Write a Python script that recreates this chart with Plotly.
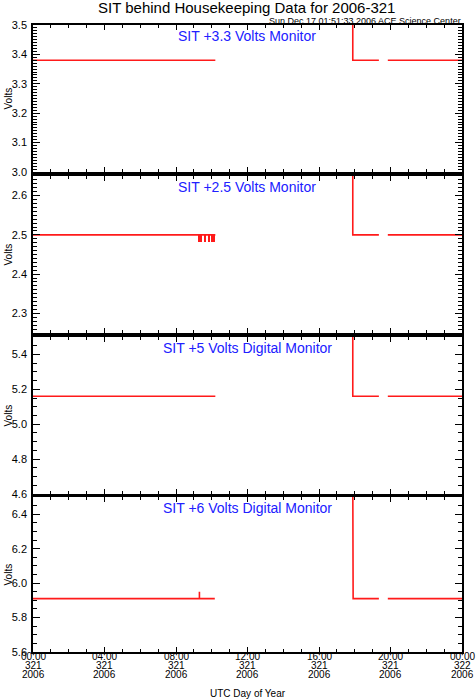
import plotly.graph_objects as go

# ---------------- data (hours of UTC day 321) ----------------
t_33 = [0.0, 10.20, 10.20, 17.89, 17.89, 19.35, 19.35, 19.85, 24.0]
v_33 = [3.38, 3.38, None, 3.60, 3.38, 3.38, None, 3.38, 3.38]

t_25 = [0.0, 10.20, 10.20, 17.89, 17.89, 19.35, 19.35, 19.85, 24.0]
v_25 = [2.50, 2.50, None, 2.70, 2.50, 2.50, None, 2.50, 2.50]
# short dips of the 2.5 V monitor (bar centre, width in hours, low value)
dip_t = [9.36, 9.63, 9.845, 10.09]
dip_w = [0.21, 0.13, 0.16, 0.22]
dip_low = 2.482
dip_high = 2.50

t_5 = [0.0, 10.20, 10.20, 17.89, 17.89, 19.35, 19.35, 19.85, 24.0]
v_5 = [5.16, 5.16, None, 5.60, 5.16, 5.16, None, 5.16, 5.16]

t_6 = [0.0, 9.31, 9.31, 9.31, 10.17, 10.17, 17.89, 17.89, 17.91, 19.35, 19.35, 19.85, 24.0]
v_6 = [5.91, 5.91, 5.95, 5.91, 5.91, None, 6.60, 5.93, 5.91, 5.91, None, 5.91, 5.91]

panel_titles = ["SIT +3.3 Volts Monitor", "SIT +2.5 Volts Monitor",
                "SIT +5 Volts Digital Monitor", "SIT +6 Volts Digital Monitor"]
y_ranges = [[3.0, 3.5], [2.25, 2.65], [4.6, 5.5], [5.6, 6.5]]
y_tick0 = [3.0, 2.3, 4.6, 5.6]
y_dtick = [0.1, 0.1, 0.2, 0.2]
y_minor = [0.01, 0.01, 0.05, 0.05]

x_tickvals = [0, 4, 8, 12, 16, 20, 24]
x_tick_time = ["00:00", "04:00", "08:00", "12:00", "16:00", "20:00", "00:00"]
x_tick_doy = ["321", "321", "321", "321", "321", "321", "322"]
x_tick_year = ["2006", "2006", "2006", "2006", "2006", "2006", "2006"]

# ---------------- layout geometry ----------------
WIDTH, HEIGHT = 476, 699
L, R, T, B = 33, 14, 25, 47
PW = WIDTH - L - R
PH = HEIGHT - T - B
def py(y):  # pixel y -> paper fraction
    return (HEIGHT - B - y) / PH
def px(x):
    return (x - L) / PW

panel_px = [(25, 172), (176, 333), (337, 494), (497, 652)]

FONT = "Liberation Sans, Arial, Helvetica, sans-serif"
RED = "#ff1a1a"

fig = go.Figure()
series = [(t_33, v_33), (t_25, v_25), (t_5, v_5), (t_6, v_6)]
for i, (tt, vv) in enumerate(series):
    ax = "" if i == 0 else str(i + 1)
    fig.add_trace(go.Scatter(x=tt, y=vv, mode="lines", line=dict(color=RED, width=1.6),
                             connectgaps=False, showlegend=False,
                             xaxis="x" + ax, yaxis="y" + ax, hoverinfo="skip"))
    if i == 1:
        fig.add_trace(go.Bar(x=dip_t, width=dip_w, base=[dip_low] * len(dip_t),
                             y=[dip_high - dip_low] * len(dip_t),
                             marker=dict(color=RED, line=dict(width=0)),
                             showlegend=False, xaxis="x2", yaxis="y2", hoverinfo="skip"))

layout = dict(width=WIDTH, height=HEIGHT, paper_bgcolor="white", plot_bgcolor="white",
              margin=dict(l=L, r=R, t=T, b=B, autoexpand=False),
              font=dict(family=FONT, color="black", size=11),
              showlegend=False, bargap=0)

annotations = []
for i in range(4):
    ax = "" if i == 0 else str(i + 1)
    top, bot = panel_px[i]
    xa = dict(range=[0, 24], domain=[0, 1], anchor="y" + ax, automargin=False,
              showline=True, linecolor="black", linewidth=1.5, mirror="allticks",
              ticks="inside", ticklen=5, tickwidth=1, tickcolor="black",
              tickmode="array", tickvals=x_tickvals, ticktext=x_tick_time,
              showticklabels=False, showgrid=False, zeroline=False,
              minor=dict(ticks="inside", ticklen=3, tickcolor="black", tickmode="linear",
                         tick0=0, dtick=1, showgrid=False))
    if i > 0:
        xa["matches"] = "x"
    ya = dict(range=y_ranges[i], domain=[py(bot), py(top)], anchor="x" + ax, automargin=False,
              showline=True, linecolor="black", linewidth=1.5, mirror="allticks",
              ticks="inside", ticklen=7, tickwidth=1, tickcolor="black",
              tickmode="linear", tick0=y_tick0[i], dtick=y_dtick[i], tickformat=".1f",
              showgrid=False, zeroline=False, tickfont=dict(size=11, family=FONT),
              ticklabelstandoff=2,
              minor=dict(ticks="inside", ticklen=4, tickcolor="black", tickmode="linear",
                         tick0=y_tick0[i], dtick=y_minor[i], showgrid=False))
    layout["xaxis" + ax] = xa
    layout["yaxis" + ax] = ya
    annotations.append(dict(text=panel_titles[i], xref="paper", yref="paper",
                            x=px(247), y=py(top + 11), xanchor="center", yanchor="middle",
                            showarrow=False, font=dict(size=14, color="#2020ff", family=FONT)))
    annotations.append(dict(text="Volts", xref="paper", yref="paper", x=px(8), y=py((top + bot) / 2),
                            xanchor="center", yanchor="middle", textangle=-90, showarrow=False,
                            font=dict(size=10, family=FONT)))

# bottom-axis tick labels, three tight rows under each major tick
for rows, ypix in ((x_tick_time, 656.5), (x_tick_doy, 665.5), (x_tick_year, 674.5)):
    for xv, txt in zip(x_tickvals, rows):
        annotations.append(dict(text=txt, xref="x4", yref="paper", x=xv, y=py(ypix),
                                xanchor="center", yanchor="middle", showarrow=False,
                                font=dict(size=10, family=FONT)))

annotations.append(dict(text="SIT behind Housekeeping Data for 2006-321", xref="paper", yref="paper",
                        x=px(246), y=py(8), xanchor="center", yanchor="middle", showarrow=False,
                        font=dict(size=15, family=FONT)))
annotations.append(dict(text="Sun Dec 17 01:51:33 2006 ACE Science Center", xref="paper", yref="paper",
                        x=px(463), y=py(20.5), xanchor="right", yanchor="middle", showarrow=False,
                        font=dict(size=9, family=FONT)))
annotations.append(dict(text="UTC Day of Year", xref="paper", yref="paper",
                        x=px(248), y=py(693), xanchor="center", yanchor="middle", showarrow=False,
                        font=dict(size=10, family=FONT)))
layout["annotations"] = annotations

fig.update_layout(**layout)
fig.write_html("out.html", config={"displayModeBar": False},
               post_script="document.body.style.margin='0';document.body.style.padding='0';")
